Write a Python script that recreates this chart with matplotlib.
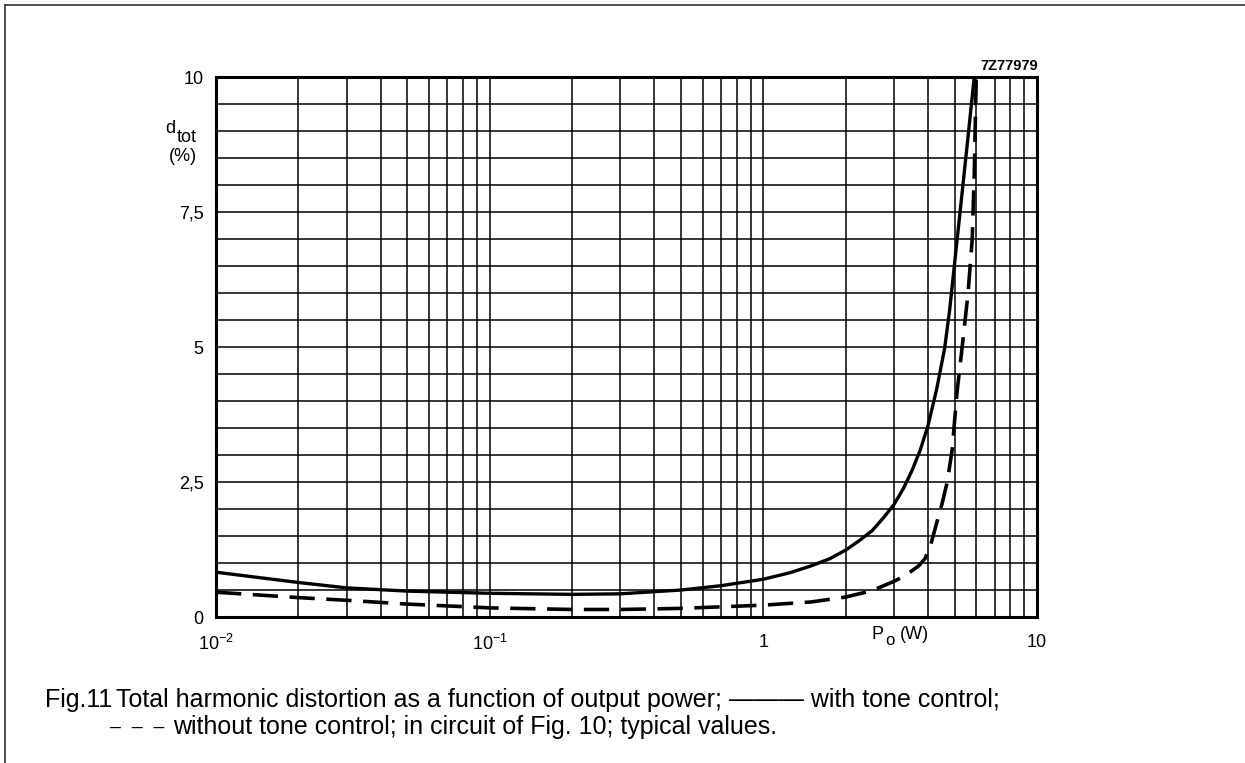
import numpy as np
import matplotlib
matplotlib.use('Agg')
import matplotlib.pyplot as plt
from matplotlib.lines import Line2D
from matplotlib.ticker import FixedLocator, NullFormatter

plt.rcParams['font.family'] = ['Liberation Sans', 'DejaVu Sans']
plt.rcParams['mathtext.fontset'] = 'custom'
plt.rcParams['mathtext.rm'] = 'Liberation Sans'
plt.rcParams['mathtext.it'] = 'Liberation Sans:italic'

# curve: with tone control (solid)
p_tone = [0.01, 0.02, 0.03, 0.05, 0.1, 0.2, 0.3, 0.5, 0.7, 1.0, 1.25, 1.5, 1.75, 2.0,
          2.25, 2.5, 2.75, 3.0, 3.25, 3.5, 3.75, 4.0, 4.3, 4.6, 4.8, 5.0, 5.3, 5.6, 5.9]
d_tone = [0.83, 0.64, 0.54, 0.48, 0.44, 0.42, 0.43, 0.50, 0.58, 0.70, 0.82, 0.95, 1.08, 1.24,
          1.42, 1.60, 1.84, 2.08, 2.38, 2.72, 3.10, 3.55, 4.22, 4.98, 5.70, 6.55, 7.75, 8.9, 10.0]

# without tone control (dashed)
p_notone = [0.01, 0.02, 0.03, 0.05, 0.1, 0.2, 0.3, 0.5, 1.0, 1.5, 2.0, 2.5,
            3.0, 3.25, 3.5, 3.7, 3.9, 4.1, 4.3, 4.5, 4.7, 4.9, 5.1, 5.33, 5.6, 5.8, 5.9, 6.0]
d_notone = [0.46, 0.36, 0.31, 0.24, 0.17, 0.14, 0.14, 0.16, 0.22, 0.28, 0.37, 0.49,
            0.66, 0.75, 0.86, 0.95, 1.08, 1.36, 1.74, 2.10, 2.50, 3.10, 4.15, 5.0, 6.0, 7.0, 8.2, 10.0]

x_ticks = [0.01, 0.1, 1, 10]
x_labels = [r'$10^{-2}$', r'$10^{-1}$', '1', '10']
y_ticks = [0, 2.5, 5, 7.5, 10]
y_labels = ['0', '2,5', '5', '7,5', '10']

fig = plt.figure(figsize=(12.45, 7.63), dpi=100)
ax = fig.add_axes([0.1735, 0.1913, 0.6594, 0.7077])

ax.set_xscale('log')
ax.set_xlim(0.01, 10)
ax.set_ylim(0, 10)

# log grid in x, 0.5 steps in y
ax.xaxis.set_major_locator(FixedLocator(x_ticks))
minor_x = [m * 10.0 ** e for e in (-2, -1, 0) for m in range(2, 10)]
ax.xaxis.set_minor_locator(FixedLocator(minor_x))
ax.xaxis.set_minor_formatter(NullFormatter())
ax.set_xticklabels(x_labels)
ax.set_yticks(y_ticks)
ax.set_yticklabels(y_labels)
ax.set_yticks(np.arange(0, 10.01, 0.5), minor=True)
ax.grid(which='both', color='black', linewidth=1.1)
ax.tick_params(which='both', length=0)
ax.tick_params(axis='x', pad=12, labelsize=13)
ax.tick_params(axis='y', pad=9, labelsize=13)
for s in ax.spines.values():
    s.set_linewidth(2.2)

ax.plot(p_tone, d_tone, color='black', linewidth=2.4, solid_capstyle='butt',
        solid_joinstyle='round')
ax.plot(p_notone, d_notone, color='black', linewidth=2.6, dashes=(7, 3.2))

# axis labels the datasheet way
fig.text(0.133, 0.832, 'd', fontsize=13, ha='left', va='center')
fig.text(0.142, 0.820, 'tot', fontsize=13, ha='left', va='center')
fig.text(0.147, 0.795, '(%)', fontsize=13, ha='center', va='center')
fig.text(0.700, 0.168, 'P', fontsize=13, ha='left', va='center')
fig.text(0.711, 0.160, 'o', fontsize=12, ha='left', va='center')
fig.text(0.723, 0.168, '(W)', fontsize=13, ha='left', va='center')
fig.text(0.834, 0.913, '7Z77979', fontsize=10.5, fontweight='bold', ha='right', va='center')

fig.text(0.036, 0.0826, 'Fig.11', fontsize=18, ha='left', va='center')
fig.text(0.0935, 0.0826,
         'Total harmonic distortion as a function of output power; \u2014\u2014\u2014 with tone control;',
         fontsize=18, ha='left', va='center')
fig.text(0.088, 0.047, '\u2013  \u2013  \u2013', fontsize=14, ha='left', va='center')
fig.text(0.139, 0.047, 'without tone control; in circuit of Fig. 10; typical values.',
         fontsize=18, ha='left', va='center')

# page frame (top and left edges only)
fig.add_artist(Line2D([5 / 1245, 1], [1 - 5 / 763, 1 - 5 / 763], color='#333333', linewidth=1.2))
fig.add_artist(Line2D([5 / 1245, 5 / 1245], [0, 1 - 5 / 763], color='#333333', linewidth=1.2))

fig.savefig('out.png', dpi=100)
